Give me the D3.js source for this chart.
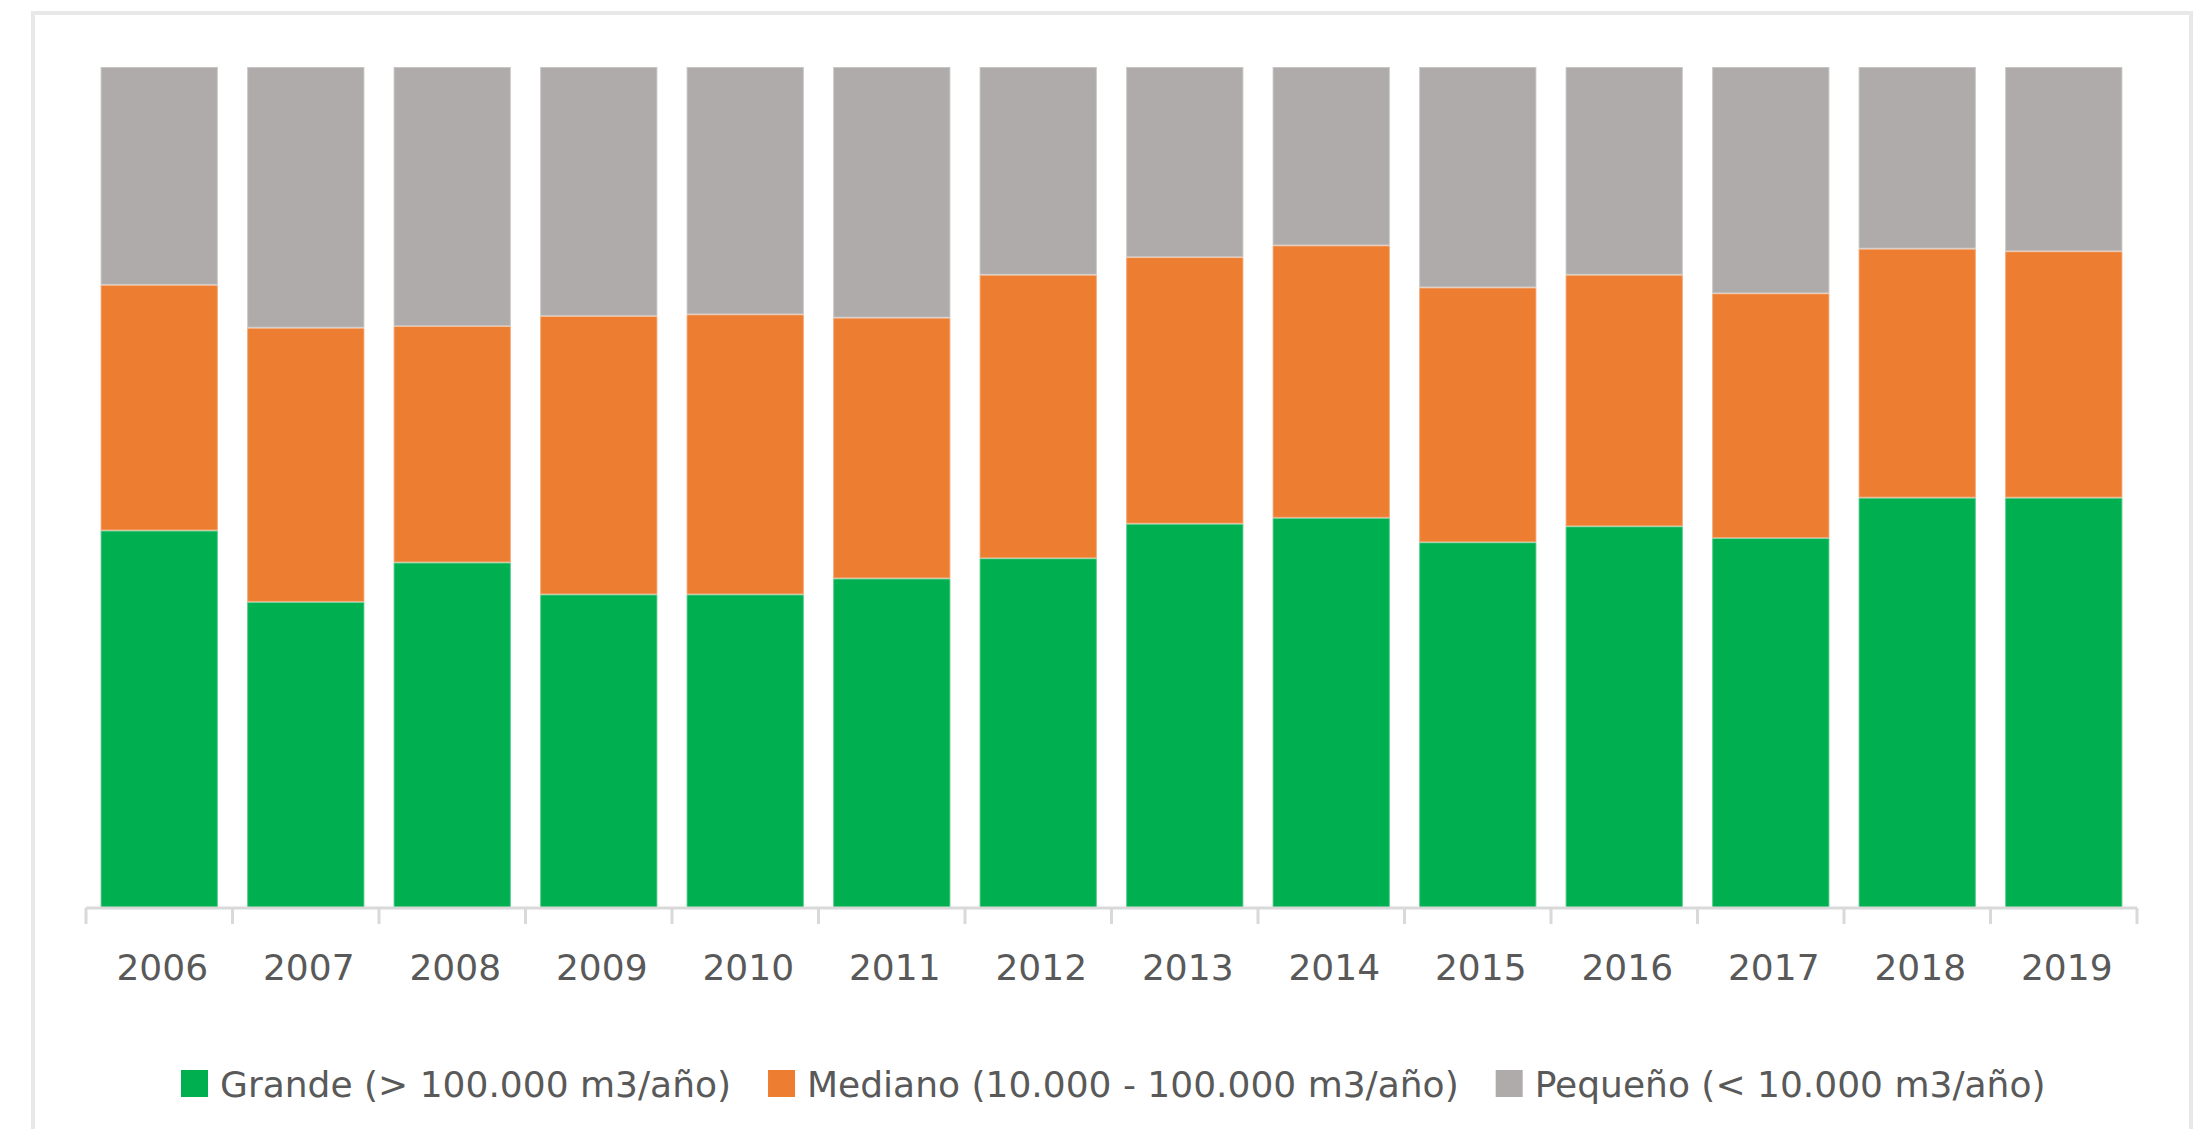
<!DOCTYPE html>
<html>
<head>
<meta charset="utf-8">
<script src="https://cdn.jsdelivr.net/npm/d3@7"></script>
<style>
  body { margin: 0; background: #fff; }
  svg text { font-family: "DejaVu Sans", sans-serif; fill: #595959; }
</style>
</head>
<body>
<div id="chart"></div>
<script>
// years and shares (% of total)
const years = ["2006", "2007", "2008", "2009", "2010", "2011", "2012",
               "2013", "2014", "2015", "2016", "2017", "2018", "2019"];
const grande  = [44.9, 36.4, 41.1, 37.3, 37.3, 39.2, 41.6, 45.7, 46.4, 43.5, 45.4, 44.0, 48.8, 48.8];
const mediano = [29.2, 32.6, 28.1, 33.1, 33.3, 31.0, 33.7, 31.7, 32.4, 30.3, 29.9, 29.1, 29.6, 29.3];
const pequeno = [25.9, 31.0, 30.8, 29.6, 29.4, 29.8, 24.7, 22.6, 21.2, 26.2, 24.7, 26.9, 21.6, 21.9];

const seriesNames = ["Grande (> 100.000 m3/año)", "Mediano (10.000 - 100.000 m3/año)", "Pequeño (< 10.000 m3/año)"];
const keys = ["grande", "mediano", "pequeno"];
const colors = ["#00b050", "#ed7d31", "#afabab"];

const W = 2201, H = 1129;
const plot = { left: 86, right: 2137, top: 67, bottom: 908 };

const svg = d3.select("#chart")
    .append("svg")
    .attr("width", W)
    .attr("height", H);

// outer frame
svg.append("rect")
    .attr("x", 33).attr("y", 13)
    .attr("width", 2158).attr("height", H + 20)
    .attr("fill", "none")
    .attr("stroke", "#e8e8e8")
    .attr("stroke-width", 4);

const rows = years.map((y, i) => ({ year: y, grande: grande[i], mediano: mediano[i], pequeno: pequeno[i] }));
const stacked = d3.stack().keys(keys).offset(d3.stackOffsetExpand)(rows);

const x = d3.scaleBand()
    .domain(years)
    .range([plot.left, plot.right])
    .paddingInner(0.2)
    .paddingOuter(0.1);

const y = d3.scaleLinear()
    .domain([0, 1])
    .range([plot.bottom, plot.top]);

const color = d3.scaleOrdinal().domain(keys).range(colors);

// bars
svg.append("g")
    .selectAll("g")
    .data(stacked)
    .enter()
    .append("g")
    .attr("fill", d => color(d.key))
    .selectAll("rect")
    .data(d => d)
    .enter()
    .append("rect")
    .attr("x", d => x(d.data.year))
    .attr("y", d => y(d[1]))
    .attr("width", x.bandwidth())
    .attr("height", d => y(d[0]) - y(d[1]))
    .attr("stroke", "#ffffff")
    .attr("stroke-opacity", 0.3)
    .attr("stroke-width", 2);

// x axis (ticks between categories, Excel style)
const axis = svg.append("g");
axis.append("line")
    .attr("x1", plot.left).attr("x2", plot.right)
    .attr("y1", plot.bottom).attr("y2", plot.bottom)
    .attr("stroke", "#d9d9d9")
    .attr("stroke-width", 3);

const step = x.step();
const tickPos = d3.range(years.length + 1).map(i => plot.left + i * (plot.right - plot.left) / years.length);
axis.selectAll(".tick")
    .data(tickPos)
    .enter()
    .append("line")
    .attr("x1", d => d).attr("x2", d => d)
    .attr("y1", plot.bottom).attr("y2", plot.bottom + 16)
    .attr("stroke", "#d9d9d9")
    .attr("stroke-width", 3);

axis.selectAll(".lbl")
    .data(years)
    .enter()
    .append("text")
    .attr("x", d => x(d) + x.bandwidth() / 2 + 3)
    .attr("y", 980)
    .attr("text-anchor", "middle")
    .attr("font-size", 36)
    .text(d => d);

// legend
const legend = svg.append("g");
let lx = 181;
seriesNames.forEach((name, i) => {
    legend.append("rect")
        .attr("x", lx).attr("y", 1070)
        .attr("width", 27).attr("height", 27)
        .attr("fill", colors[i]);
    const t = legend.append("text")
        .attr("x", lx + 39)
        .attr("y", 1097)
        .attr("font-size", 36)
        .text(name);
    lx = lx + 39 + t.node().getComputedTextLength() + 37;
});
</script>
</body>
</html>
